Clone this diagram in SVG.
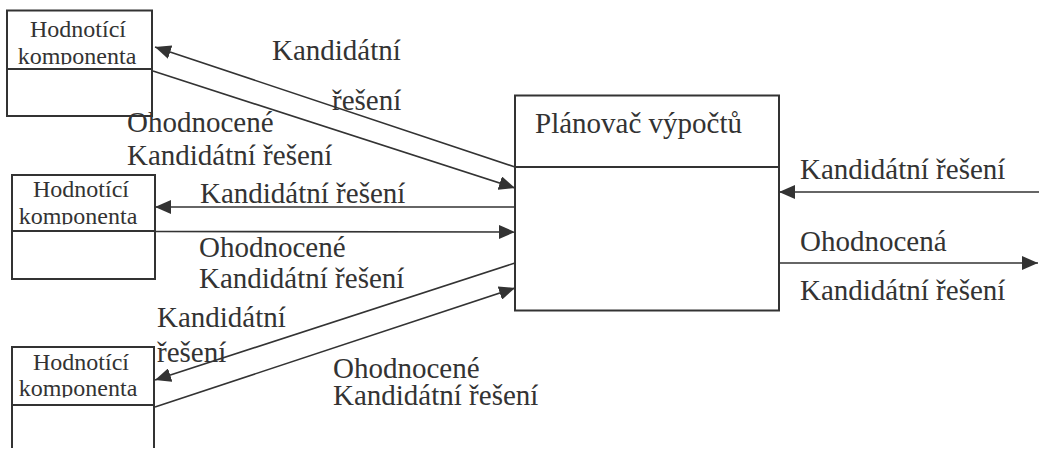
<svg xmlns="http://www.w3.org/2000/svg" width="1039" height="450" viewBox="0 0 1039 450">
<style>
  .box { fill: none; stroke: #333; stroke-width: 2; }
  .conn { fill: none; stroke: #333; stroke-width: 1.6; }
  .lbl { font-size: 29px; fill: #333; }
  .nlbl { font-size: 24px; fill: #333; text-anchor: middle; }
</style>
<defs>
  <marker id="arr" markerWidth="16" markerHeight="14" refX="16" refY="7" orient="auto" markerUnits="userSpaceOnUse">
    <path d="M0,0 L16,7 L0,14 Z" fill="#333"/>
  </marker>
  <clipPath id="c1"><rect x="7" y="10" width="145" height="54.5"/></clipPath>
  <clipPath id="c2"><rect x="12" y="175" width="143" height="49.5"/></clipPath>
  <clipPath id="c3"><rect x="12" y="347" width="142" height="50.5"/></clipPath>
</defs>
<rect width="1039" height="450" fill="#fff"/>

<g font-family="'Liberation Serif', 'Times New Roman', 'DejaVu Serif', serif">
<g id="hodnotici1">
  <rect class="box" x="7" y="10.5" width="145" height="105.5"/>
  <line class="box" x1="7" y1="69" x2="152" y2="69"/>
  <g clip-path="url(#c1)">
    <text class="nlbl" x="78" y="37">Hodnotící</text>
    <text class="nlbl" x="77" y="63.5">komponenta</text>
  </g>
</g>

<g id="hodnotici2">
  <rect class="box" x="12" y="175" width="143" height="104"/>
  <line class="box" x1="12" y1="231" x2="155" y2="231"/>
  <g clip-path="url(#c2)">
    <text class="nlbl" x="81" y="197">Hodnotící</text>
    <text class="nlbl" x="78" y="223.5">komponenta</text>
  </g>
</g>

<g id="hodnotici3">
  <path class="box" d="M12,448 L12,347 L154,347 L154,448"/>
  <line class="box" x1="12" y1="405" x2="154" y2="405"/>
  <g clip-path="url(#c3)">
    <text class="nlbl" x="81" y="370">Hodnotící</text>
    <text class="nlbl" x="78" y="395.5">komponenta</text>
  </g>
</g>

<g id="planovac">
  <rect class="box" x="515" y="95.5" width="264" height="215"/>
  <line class="box" x1="515" y1="167" x2="779" y2="167"/>
  <text class="lbl" x="535" y="133">Plánovač výpočtů</text>
</g>

<g id="connectors">
  <line class="conn" x1="515" y1="167" x2="155" y2="47" marker-end="url(#arr)"/>
  <line class="conn" x1="153" y1="71" x2="515" y2="188" marker-end="url(#arr)"/>
  <line class="conn" x1="515" y1="207" x2="155" y2="207" marker-end="url(#arr)"/>
  <line class="conn" x1="155" y1="231.5" x2="515" y2="232" marker-end="url(#arr)"/>
  <line class="conn" x1="515" y1="263" x2="155" y2="380" marker-end="url(#arr)"/>
  <line class="conn" x1="155" y1="407" x2="515" y2="288" marker-end="url(#arr)"/>
  <line class="conn" x1="1039" y1="192" x2="779" y2="192" marker-end="url(#arr)"/>
  <line class="conn" x1="779" y1="263" x2="1038" y2="263" marker-end="url(#arr)"/>
</g>

<g id="labels">
  <text class="lbl" x="272" y="60">Kandidátní</text>
  <text class="lbl" x="332" y="110">řešení</text>
  <text class="lbl" x="127" y="132">Ohodnocené</text>
  <text class="lbl" x="127" y="165">Kandidátní řešení</text>
  <text class="lbl" x="200" y="203">Kandidátní řešení</text>
  <text class="lbl" x="199" y="257">Ohodnocené</text>
  <text class="lbl" x="199" y="288">Kandidátní řešení</text>
  <text class="lbl" x="157" y="327">Kandidátní</text>
  <text class="lbl" x="157" y="362">řešení</text>
  <text class="lbl" x="333" y="378">Ohodnocené</text>
  <text class="lbl" x="333" y="405">Kandidátní řešení</text>
  <text class="lbl" x="800" y="179">Kandidátní řešení</text>
  <text class="lbl" x="800" y="251">Ohodnocená</text>
  <text class="lbl" x="800" y="300">Kandidátní řešení</text>
</g>
</g>
</svg>
